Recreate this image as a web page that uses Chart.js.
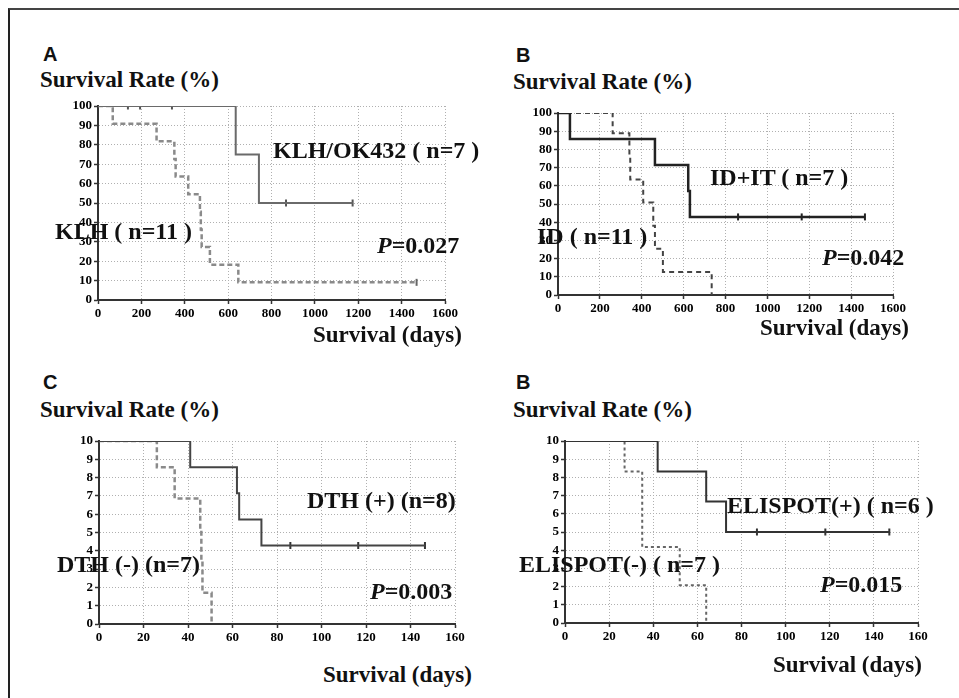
<!DOCTYPE html>
<html>
<head>
<meta charset="utf-8">
<script src="https://cdn.jsdelivr.net/npm/chart.js@4.4.1/dist/chart.umd.min.js"></script>
<style>
  body { margin: 0; background: #fff; }
  #page { position: relative; width: 959px; height: 698px; overflow: hidden; background: #fff; }
  #frame { position: absolute; left: 8px; top: 8px; width: 960px; height: 700px;
           border-top: 2px solid #444; border-left: 2px solid #222; }
  canvas { position: absolute; }
  .txt { position: absolute; font-family: "Liberation Serif", "Times New Roman", serif; font-weight: bold;
         color: #111; white-space: nowrap; line-height: 1; }
  .letter { position: absolute; font-family: "Liberation Sans", Arial, sans-serif; font-weight: bold;
            font-size: 20px; line-height: 1; color: #111; }
  .title { font-size: 23px; }
  .note { font-size: 24px; }
</style>
</head>
<body>
<div id="page">
  <div id="frame"></div>

  <canvas id="chartA"></canvas>
  <canvas id="chartB"></canvas>
  <canvas id="chartC"></canvas>
  <canvas id="chartD"></canvas>

  <!-- panel A -->
  <div class="letter" style="left:43px; top:44px;">A</div>
  <div class="txt title" style="left:40px; top:68px;">Survival Rate (%)</div>
  <div class="txt note" style="left:273px; top:138px;">KLH/OK432 ( n=7 )</div>
  <div class="txt note" style="left:55px; top:219px;">KLH ( n=11 )</div>
  <div class="txt note" style="left:377px; top:233px;"><i>P</i>=0.027</div>
  <div class="txt title" style="left:313px; top:323px;">Survival (days)</div>

  <!-- panel B -->
  <div class="letter" style="left:516px; top:45px;">B</div>
  <div class="txt title" style="left:513px; top:70px;">Survival Rate (%)</div>
  <div class="txt note" style="left:710px; top:165px;">ID+IT ( n=7 )</div>
  <div class="txt note" style="left:537px; top:224px;">ID ( n=11 )</div>
  <div class="txt note" style="left:822px; top:245px;"><i>P</i>=0.042</div>
  <div class="txt title" style="left:760px; top:316px;">Survival (days)</div>

  <!-- panel C -->
  <div class="letter" style="left:43px; top:372px;">C</div>
  <div class="txt title" style="left:40px; top:398px;">Survival Rate (%)</div>
  <div class="txt note" style="left:307px; top:488px;">DTH (+) (n=8)</div>
  <div class="txt note" style="left:57px; top:552px;">DTH (-) (n=7)</div>
  <div class="txt note" style="left:370px; top:579px;"><i>P</i>=0.003</div>
  <div class="txt title" style="left:323px; top:663px;">Survival (days)</div>

  <!-- panel D -->
  <div class="letter" style="left:516px; top:372px;">B</div>
  <div class="txt title" style="left:513px; top:398px;">Survival Rate (%)</div>
  <div class="txt note" style="left:727px; top:493px;">ELISPOT(+) ( n=6 )</div>
  <div class="txt note" style="left:519px; top:552px;">ELISPOT(-) ( n=7 )</div>
  <div class="txt note" style="left:820px; top:572px;"><i>P</i>=0.015</div>
  <div class="txt title" style="left:773px; top:653px;">Survival (days)</div>
</div>

<script>
// tick labels
const daysTicksLong = [0, 200, 400, 600, 800, 1000, 1200, 1400, 1600];
const rateTicksPct = [0, 10, 20, 30, 40, 50, 60, 70, 80, 90, 100];
const daysTicksShort = [0, 20, 40, 60, 80, 100, 120, 140, 160];
const rateTicksShort = [0, 1, 2, 3, 4, 5, 6, 7, 8, 9, 10];

// Panel A : KLH/OK432 vs KLH
const klhOkDays = [0, 635, 742, 1174];
const klhOkRate = [100, 75, 50, 50];
const klhOkCensorDays = [138, 194, 341, 867, 1174];
const klhOkCensorRate = [100, 100, 100, 50, 50];
const klhDays = [0, 68, 270, 352, 358, 416, 470, 474, 478, 516, 647, 1469];
const klhRate = [100, 90.9, 81.8, 72.7, 63.6, 54.5, 45.5, 36.4, 27.3, 18.2, 9.1, 9.1];
const klhCensorDays = [1469];
const klhCensorRate = [9.1];

// Panel B : ID+IT vs ID
const iditDays = [0, 57, 463, 622, 630, 1466];
const iditRate = [100, 85.7, 71.4, 57.1, 42.9, 42.9];
const iditCensorDays = [860, 1164, 1466];
const iditCensorRate = [42.9, 42.9, 42.9];
const idDays = [0, 261, 341, 345, 407, 455, 463, 501, 734];
const idRate = [100, 88.9, 76.2, 63.5, 50.8, 38.1, 25.4, 12.7, 0];

// Panel C : DTH (+) vs DTH (-)
const dthPosDays = [0, 41, 62, 63, 73, 146.5];
const dthPosRate = [10, 8.57, 7.14, 5.71, 4.29, 4.29];
const dthPosCensorDays = [86, 116.5, 146.5];
const dthPosCensorRate = [4.29, 4.29, 4.29];
const dthNegDays = [0, 26, 34, 45.5, 46, 46.5, 50.6];
const dthNegRate = [10, 8.57, 6.86, 5.14, 3.43, 1.71, 0];

// Panel D : ELISPOT(+) vs ELISPOT(-)
const eliPosDays = [0, 42, 64, 73, 147];
const eliPosRate = [10, 8.33, 6.67, 5, 5];
const eliPosCensorDays = [87, 118, 147];
const eliPosCensorRate = [5, 5, 5];
const eliNegDays = [0, 27, 35, 52, 64];
const eliNegRate = [10, 8.33, 4.17, 2.08, 0];

const AXIS_W = 45, AXIS_H = 28, PAD_T = 10, PAD_R = 22;

function toPoints(xs, ys) {
  return xs.map((x, i) => ({ x: x, y: ys[i] }));
}

function kmLine(xs, ys, color, width, dash) {
  return {
    data: toPoints(xs, ys),
    stepped: true,
    borderColor: color,
    borderWidth: width,
    borderDash: dash || [],
    pointRadius: 0,
    fill: false
  };
}

function censorMarks(xs, ys, color) {
  return {
    type: 'scatter',
    data: toPoints(xs, ys),
    showLine: false,
    pointStyle: 'line',
    rotation: 90,
    pointRadius: 3.5,
    borderColor: color,
    borderWidth: 2
  };
}

function makeAxis(tickList, afterFit) {
  return {
    type: 'linear',
    min: tickList[0],
    max: tickList[tickList.length - 1],
    afterBuildTicks: function (s) {
      s.ticks = tickList.map(v => ({ value: v }));
    },
    afterFit: afterFit,
    grid: {
      color: '#b0b0b0',
      lineWidth: 1,
      drawTicks: true,
      tickLength: 4,
      tickColor: '#333',
      tickWidth: 1.5,
      tickBorderDash: []
    },
    border: { display: true, color: '#333', width: 2, dash: [1, 2] },
    ticks: {
      color: '#000',
      padding: 2,
      autoSkip: false,
      maxRotation: 0,
      callback: function (value) { return String(value); },
      font: { family: 'Liberation Serif', weight: 'bold', size: 13 }
    }
  };
}

function drawPanel(id, box, xTicks, yTicks, datasets) {
  const canvas = document.getElementById(id);
  canvas.width = box.r - box.l + AXIS_W + PAD_R;
  canvas.height = box.b - box.t + PAD_T + AXIS_H;
  canvas.style.left = (box.l - AXIS_W) + 'px';
  canvas.style.top = (box.t - PAD_T) + 'px';

  return new Chart(canvas, {
    type: 'line',
    data: { datasets: datasets },
    options: {
      responsive: false,
      animation: false,
      devicePixelRatio: 1,
      events: [],
      layout: { padding: { top: PAD_T, right: PAD_R, left: 0, bottom: 0 } },
      plugins: { legend: { display: false }, tooltip: { enabled: false } },
      scales: {
        x: makeAxis(xTicks, function (s) {
          s.height = AXIS_H;
          s.paddingLeft = 0;
          s.paddingRight = 0;
        }),
        y: makeAxis(yTicks, function (s) {
          s.width = AXIS_W;
          s.paddingTop = 0;
          s.paddingBottom = 0;
        })
      }
    }
  });
}

drawPanel('chartA', { l: 98, r: 445, t: 106, b: 300 }, daysTicksLong, rateTicksPct, [
  kmLine(klhOkDays, klhOkRate, '#6a6a6a', 2),
  censorMarks(klhOkCensorDays, klhOkCensorRate, '#555'),
  kmLine(klhDays, klhRate, '#8a8a8a', 2.5, [5, 3]),
  censorMarks(klhCensorDays, klhCensorRate, '#666')
]);

drawPanel('chartB', { l: 558, r: 893, t: 113, b: 295 }, daysTicksLong, rateTicksPct, [
  kmLine(iditDays, iditRate, '#222', 2.5),
  censorMarks(iditCensorDays, iditCensorRate, '#222'),
  kmLine(idDays, idRate, '#444', 2, [5, 4])
]);

drawPanel('chartC', { l: 99, r: 455, t: 441, b: 624 }, daysTicksShort, rateTicksShort, [
  kmLine(dthPosDays, dthPosRate, '#444', 2),
  censorMarks(dthPosCensorDays, dthPosCensorRate, '#333'),
  kmLine(dthNegDays, dthNegRate, '#8a8a8a', 2.5, [5, 3])
]);

drawPanel('chartD', { l: 565, r: 918, t: 441, b: 623 }, daysTicksShort, rateTicksShort, [
  kmLine(eliPosDays, eliPosRate, '#333', 2),
  censorMarks(eliPosCensorDays, eliPosCensorRate, '#333'),
  kmLine(eliNegDays, eliNegRate, '#666', 2, [3, 3])
]);
</script>
</body>
</html>
